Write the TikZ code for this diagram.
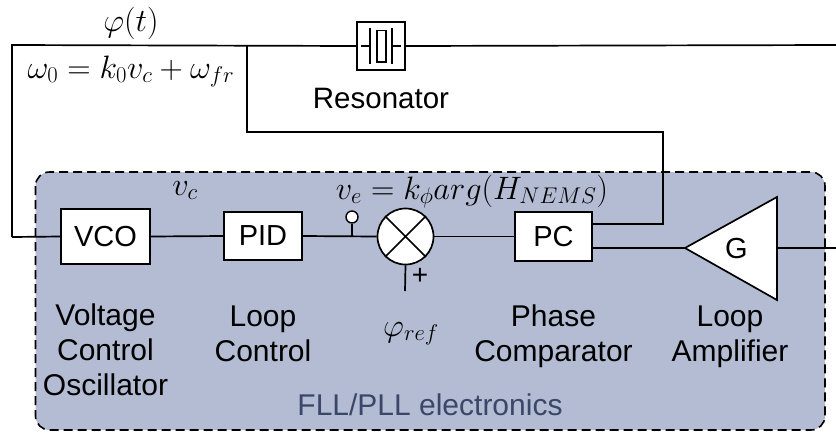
\RequirePackage{fix-cm}
\documentclass[tikz,border=0pt]{standalone}
\usepackage{fontspec}
\setmainfont{Liberation Sans}
\usetikzlibrary{calc}
\definecolor{panel}{HTML}{B3BCD3}
\definecolor{paneltext}{HTML}{3A4769}
\tikzset{
  wire/.style={draw=black,line width=1.7pt},
  blockbox/.style={draw=black,fill=white,line width=1.7pt,minimum width=#1,inner sep=0pt,font=\fontsize{29}{32}\selectfont},
  lbl/.style={inner sep=0pt,anchor=base,font=\fontsize{30}{35}\selectfont,align=center},
  mathlbl/.style={inner sep=0pt,anchor=base,font=\fontsize{32.4}{38}\selectfont},
}
\begin{document}
\begin{tikzpicture}[x=1pt,y=-1pt]
\useasboundingbox (0,0) rectangle (836,432);
\draw[fill=panel,draw=black,line width=1.6pt,dashed,dash pattern=on 9pt off 5pt,rounded corners=14pt] (35.5,172) rectangle (825,430);
% coordinates
\coordinate (tl) at (12,45);
\coordinate (tr) at (836,45);
\coordinate (bl) at (12,237);
\coordinate (tj) at (247,45);
\coordinate (m1) at (247,132);
\coordinate (m2) at (663,132);
\coordinate (m3) at (663,224);
\coordinate (gtip) at (685,248);
\coordinate (gt) at (777,197);
\coordinate (gb) at (777,300);
\coordinate (gout) at (777,248);
\coordinate (outr) at (836,248);
\coordinate (pinb) at (352,236.5);
\coordinate (refb) at (405,291);
% blocks
\node[blockbox=89pt,minimum height=55pt] (vco) at (105.5,236.5) {VCO};
\node[blockbox=78pt,minimum height=48pt] (pid) at (263,236) {PID};
\node[blockbox=77pt,minimum height=49pt] (pc) at (553.5,236.5) {PC};
\node[circle,draw=black,fill=white,line width=1.7pt,minimum size=56pt,inner sep=0pt] (mix) at (405.5,236.5) {};
\node[draw=black,fill=white,line width=1.7pt,minimum size=48pt,inner sep=0pt] (res) at (381,46) {};
\node[circle,draw=black,fill=white,line width=1.4pt,minimum size=12pt,inner sep=0pt] (pin) at (352,217) {};
% connectors
\draw[wire] (bl) -- (vco.west);
\draw[wire,line join=miter] (bl) -- (tl) -- (res.west);
\draw[wire] (res.east) -- (tr);
\draw[wire,line join=miter] (tj) -- (m1) -- (m2) -- (m3) -- (pc.east |- m3);
\draw[wire] (vco.east) -- (pid.west);
\draw[wire] (pid.east) -- (mix.west);
\draw[wire] (mix.east) -- (pc.west);
\draw[wire] (pin.south) -- (pinb);
\draw[wire] (mix.south) -- (refb);
\draw[wire] (pc.east |- gtip) -- (gtip);
\draw[wire] (gout) -- (outr);
% amplifier
\draw[fill=white,draw=black,line width=1.7pt,line join=miter] (gtip) -- (gt) -- (gb) -- cycle;
\node[inner sep=0pt,font=\fontsize{29}{32}\selectfont] (g) at (736.5,248.5) {G};
% mixer cross
\draw[line width=1.7pt] (mix.45) -- (mix.225) (mix.135) -- (mix.315);
% resonator symbol
\draw[line width=1.7pt] ($(res.west)+(5,0)$) -- ++(9,0) ($(res.west)+(14,-18)$) -- ++(0,36)
  ($(res.east)+(-14,-18)$) -- ++(0,36) ($(res.east)+(-14,0)$) -- ++(9,0);
\draw[line width=1.7pt] (377,30.5) rectangle (386,62);
% texts
\node[mathlbl] (phi) at (131,31) {$\varphi(t)$};
\node[mathlbl] (omega) at (131,78) {$\omega_0=k_0v_c+\omega_{fr}$};
\node[lbl,font=\fontsize{29.5}{35}\selectfont] (reslbl) at (381,108) {Resonator};
\node[mathlbl] (vc) at (185,195) {$v_c$};
\node[mathlbl] (ve) at (472,199) {$v_e=k_\phi arg(H_{NEMS})$};
\node[inner sep=0pt,font=\fontsize{28}{30}\selectfont] (plus) at (420,276) {+};
\node[mathlbl] (pref) at (411,336) {$\varphi_{ref}$};
\node[lbl] (l1) at (105.5,395) {Voltage\\Control\\Oscillator};
\node[lbl] (l2) at (263,361) {Loop\\Control};
\node[lbl] (l3) at (553.5,361) {Phase\\Comparator};
\node[lbl] (l4) at (730,361) {Loop\\Amplifier};
\node[lbl,text=paneltext] (fll) at (430,415) {FLL/PLL electronics};
\end{tikzpicture}
\end{document}
